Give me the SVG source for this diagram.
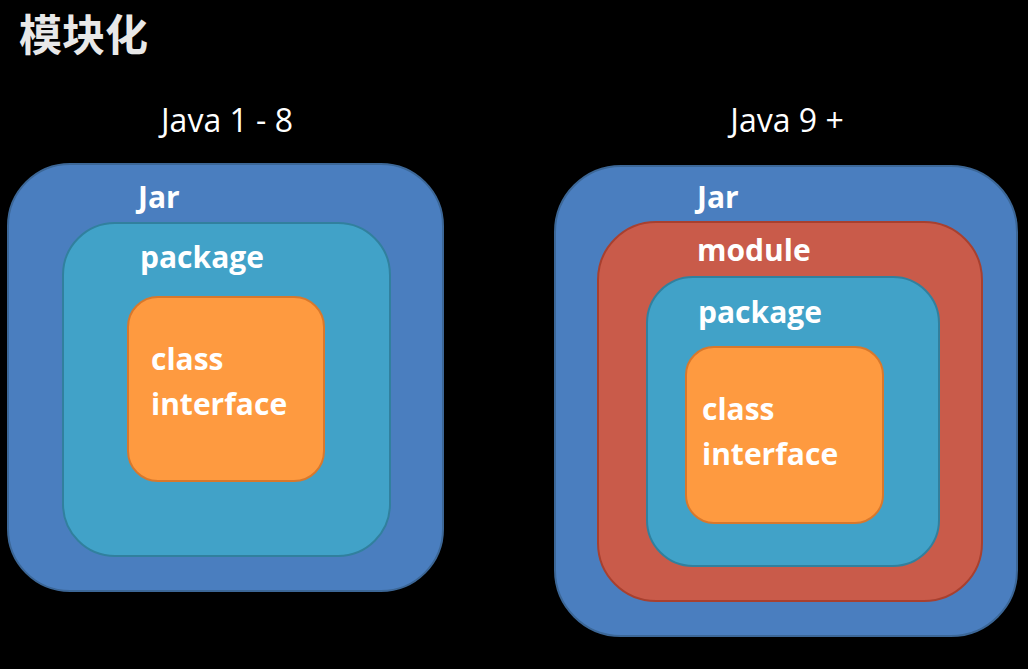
<svg xmlns="http://www.w3.org/2000/svg" width="1028" height="669" viewBox="0 0 1028 669">
<style>
.jar{fill:#4a7ebf;stroke:#3c6797;stroke-width:2}
.pkg{fill:#41a2c8;stroke:#31809e;stroke-width:2}
.cls{fill:#fe9a40;stroke:#d8782c;stroke-width:2}
.mod{fill:#c95b4a;stroke:#a8402f;stroke-width:2}
.lbl{font-family:"Open Sans","Noto Sans",sans-serif;font-weight:bold;font-size:30px;fill:#ffffff}
.hdr{font-family:"Open Sans","Noto Sans",sans-serif;font-size:32px;fill:#ffffff;text-anchor:middle}
.ttl{font-family:"Noto Sans CJK SC",sans-serif;font-weight:bold;font-size:43px;fill:#e8e8e8}
</style>
<rect width="1028" height="669" fill="#000000"/>
<text class="ttl" x="19" y="51">模块化</text>
<text class="hdr" x="227" y="132">Java 1 - 8</text>
<text class="hdr" x="787" y="132">Java 9 +</text>
<g id="left-jar">
<rect class="jar" x="8" y="164" width="435" height="427" rx="62"/>
<text class="lbl" x="138" y="208">Jar</text>
</g>
<g id="left-package">
<rect class="pkg" x="63" y="223" width="327" height="333" rx="52"/>
<text class="lbl" x="140" y="268">package</text>
</g>
<g id="left-class">
<rect class="cls" x="128" y="297" width="196" height="184" rx="30"/>
<text class="lbl" x="151" y="370">class</text>
<text class="lbl" x="151" y="415">interface</text>
</g>
<g id="right-jar">
<rect class="jar" x="555" y="166" width="462" height="470" rx="66"/>
<text class="lbl" x="697" y="208">Jar</text>
</g>
<g id="right-module">
<rect class="mod" x="598" y="222" width="384" height="379" rx="58"/>
<text class="lbl" x="697" y="261">module</text>
</g>
<g id="right-package">
<rect class="pkg" x="647" y="277" width="292" height="289" rx="46"/>
<text class="lbl" x="698" y="323">package</text>
</g>
<g id="right-class">
<rect class="cls" x="686" y="347" width="197" height="176" rx="28"/>
<text class="lbl" x="702" y="420">class</text>
<text class="lbl" x="702" y="465">interface</text>
</g>
<g id="connectors"></g>
</svg>
